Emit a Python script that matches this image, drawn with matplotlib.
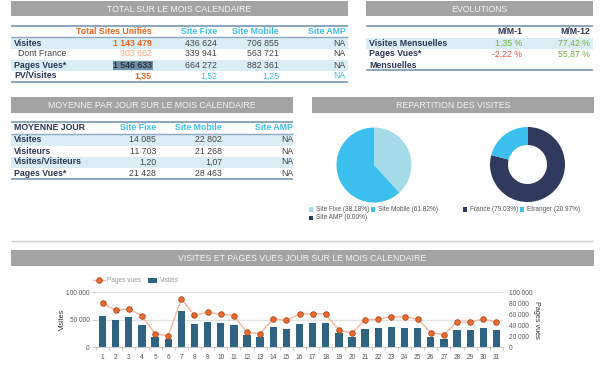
import matplotlib
matplotlib.use('Agg')
import matplotlib.pyplot as plt
from matplotlib.patches import Rectangle
from matplotlib.lines import Line2D

plt.rcParams['font.family'] = ['Liberation Sans', 'DejaVu Sans']

# ---------------- data ----------------
total_cols = ['Total Sites Unifiés', 'Site Fixe', 'Site Mobile', 'Site AMP']
total_rows = ['Visites', 'Dont France', 'Pages Vues*', 'PV/Visites']
total_values = [['1 143 479', '436 624', '706 855', 'NA'],
                ['903 662', '339 941', '563 721', 'NA'],
                ['1 546 633', '664 272', '882 361', 'NA'],
                ['1,35', '1,52', '1,25', 'NA']]

evo_cols = ['M/M-1', 'M/M-12']
evo_rows = ['Visites Mensuelles', 'Pages Vues*\nMensuelles']
evo_values = [[1.35, 77.42], [-2.22, 55.87]]

avg_title = 'MOYENNE JOUR'
avg_cols = ['Site Fixe', 'Site Mobile', 'Site AMP']
avg_rows = ['Visites', 'Visiteurs', 'Visites/Visiteurs', 'Pages Vues*']
avg_values = [['14 085', '22 802', 'NA'],
              ['11 703', '21 268', 'NA'],
              ['1,20', '1,07', 'NA'],
              ['21 428', '28 463', 'NA']]

device_labels = ['Site Fixe', 'Site Mobile', 'Site AMP']
device_share = [38.18, 61.82, 0.00]
geo_labels = ['France', 'Etranger']
geo_share = [79.03, 20.97]

days = list(range(1, 32))
visites = [57600, 50000, 54500, 41000, 18000, 16000, 66700, 43000, 46700, 44000,
           41000, 22400, 19000, 37000, 33000, 42400, 45000, 43600, 25500, 19400,
           34000, 34500, 37600, 36000, 35000, 19000, 16000, 31000, 31000, 35000, 31000]
pages_vues = [80600, 67000, 70000, 57000, 25000, 20600, 88000, 58000, 63600, 60000,
              57600, 27000, 25000, 52000, 49000, 60000, 61000, 60600, 31000, 26000,
              50000, 51000, 56000, 55000, 51500, 26700, 23000, 46000, 46000, 51500, 46000]

# ---------------- style ----------------
W, H = 600, 372
FS = 6.3
SFS = 4.7
ORANGE = '#f26522'
LORANGE = '#f7a27c'
SKY = '#3cbfef'
LSKY = '#a6dce9'
NAVY = '#2b3756'
TXT = '#444444'
ROWBG = '#d8edf4'
LINE = '#8fa8bf'
HEADBG = '#a3a3a3'
GREEN = '#72ad3e'
RED = '#d9534f'
BAR = '#2e6482'

fig = plt.figure(figsize=(6, 3.72), dpi=100)
bg = fig.add_axes([0, 0, 1, 1])
bg.set_xlim(0, W)
bg.set_ylim(H, 0)
bg.axis('off')


def fax(x0, y0, x1, y1):
    return [x0 / W, 1 - y1 / H, (x1 - x0) / W, (y1 - y0) / H]


def header(x0, x1, y0, y1, title):
    bg.add_patch(Rectangle((x0, y0), x1 - x0, y1 - y0, color=HEADBG, lw=0))
    bg.text((x0 + x1) / 2, (y0 + y1) / 2 + 0.5, title, ha='center', va='center',
            fontsize=FS, color='#f4f4f4')


def hline(x0, x1, y, lw=1.2, color=LINE):
    bg.plot([x0, x1], [y, y], color=color, lw=lw, solid_capstyle='butt')


def rowbg(x0, x1, yc, h=11):
    bg.add_patch(Rectangle((x0, yc - h / 2), x1 - x0, h, color=ROWBG, lw=0))


# ---------- Table 1 ----------
header(11, 348, 1, 16, 'TOTAL SUR LE MOIS CALENDAIRE')
hline(11, 348, 26, 1.5)
t1_right = [152, 217, 279, 346]
t1_rows_y = [43, 54, 65, 76]
for i, yc in enumerate(t1_rows_y):
    if i % 2 == 0:
        rowbg(11, 348, yc)
hline(11, 348, 37.3, 1.0)
hline(11, 348, 82, 1.5)
for j, c in enumerate(total_cols):
    bg.text(t1_right[j], 31.7, c, ha='right', va='center', fontsize=FS,
            fontweight='bold', color=ORANGE if j == 0 else SKY)
for i, r in enumerate(total_rows):
    yc = t1_rows_y[i]
    if r == 'Dont France':
        bg.text(18, yc, r, ha='left', va='center', fontsize=FS, color=TXT)
    else:
        bg.text(14, yc, r, ha='left', va='center', fontsize=FS, fontweight='bold', color=NAVY)
    for j, v in enumerate(total_values[i]):
        kw = dict(ha='right', va='center', fontsize=FS, color=TXT)
        if j == 0:
            if i == 0 or i == 3:
                kw.update(color=ORANGE, fontweight='bold')
            elif i == 1:
                kw.update(color=LORANGE)
            else:
                bg.add_patch(Rectangle((113, yc - 4.5), 39.5, 9, color='#7190a8', lw=0))
                kw.update(color='#2a3340', fontweight='bold')
        elif i == 3:
            kw.update(color=SKY)
        bg.text(t1_right[j], yc, v, **kw)

# ---------- Evolutions ----------
header(366, 593, 1, 16, 'EVOLUTIONS')
hline(366, 593, 26, 1.5)
rowbg(366, 593, 43)
hline(366, 593, 70.3, 1.5)
evo_right = [522, 590]
for j, c in enumerate(evo_cols):
    bg.text(evo_right[j], 31.7, c, ha='right', va='center', fontsize=FS,
            fontweight='bold', color=NAVY)
evo_y = [43, 54]
for i, r in enumerate(evo_rows):
    for k, part in enumerate(r.split('\n')):
        bg.text(369, evo_y[i] + 11 * k, part, ha='left', va='center', fontsize=FS,
                fontweight='bold', color=NAVY)
    for j, v in enumerate(evo_values[i]):
        s = f'{v:.2f} %'.replace('.', ',')
        bg.text(evo_right[j], evo_y[i], s, ha='right', va='center', fontsize=FS,
                color=GREEN if v >= 0 else RED)

# ---------- Moyenne ----------
header(11, 293, 97, 113, 'MOYENNE PAR JOUR SUR LE MOIS CALENDAIRE')
hline(11, 293, 122, 1.5)
avg_rows_y = [140, 151, 162, 173]
for i, yc in enumerate(avg_rows_y):
    if i % 2 == 0:
        rowbg(11, 293, yc)
hline(11, 293, 134.3, 1.0)
hline(11, 293, 179, 1.5)
avg_right = [156, 222, 293]
bg.text(14, 128, avg_title, ha='left', va='center', fontsize=FS, fontweight='bold', color=NAVY)
for j, c in enumerate(avg_cols):
    bg.text(avg_right[j], 128, c, ha='right', va='center', fontsize=FS,
            fontweight='bold', color=SKY)
for i, r in enumerate(avg_rows):
    yc = avg_rows_y[i]
    bg.text(14, yc, r, ha='left', va='center', fontsize=FS, fontweight='bold', color=NAVY)
    for j, v in enumerate(avg_values[i]):
        bg.text(avg_right[j], yc, v, ha='right', va='center', fontsize=FS, color=TXT)

# ---------- Repartition ----------
header(312, 594, 97, 113, 'REPARTITION DES VISITES')
ax_p1 = fig.add_axes(fax(336.5, 127.5, 411.5, 202.5))
ax_p1.pie(device_share, colors=[LSKY, SKY, NAVY], startangle=90, counterclock=False,
          radius=1, wedgeprops=dict(linewidth=0))
ax_p1.set_xlim(-1, 1); ax_p1.set_ylim(-1, 1); ax_p1.axis('off')

ax_p2 = fig.add_axes(fax(490, 127, 565, 202))
ax_p2.pie(geo_share, colors=['#303a5e', SKY], startangle=90, counterclock=False,
          radius=1, wedgeprops=dict(width=0.48, linewidth=0))
ax_p2.set_xlim(-1, 1); ax_p2.set_ylim(-1, 1); ax_p2.axis('off')


def legend_item(x, y, color, label):
    bg.add_patch(Rectangle((x, y - 2.2), 4.4, 4.4, color=color, lw=0))
    bg.text(x + 7, y, label, ha='left', va='center', fontsize=SFS, color='#555555')


dev_colors = [LSKY, SKY, NAVY]
dev_pos = [(309, 209.5), (371, 209.5), (309, 217.8)]
for k, lab in enumerate(device_labels):
    legend_item(dev_pos[k][0], dev_pos[k][1], dev_colors[k], f'{lab} ({device_share[k]:.2f}%)')
geo_colors = ['#303a5e', SKY]
geo_pos = [(463, 209.5), (520, 209.5)]
for k, lab in enumerate(geo_labels):
    legend_item(geo_pos[k][0], geo_pos[k][1], geo_colors[k], f'{lab} ({geo_share[k]:.2f}%)')

# separator
hline(11, 593, 241, 1.0, '#cfcfcf')

# ---------- daily chart ----------
header(11, 594, 250, 266, 'VISITES ET PAGES VUES JOUR SUR LE MOIS CALENDAIRE')

ax = fig.add_axes(fax(96, 292.3, 503, 347.3))
ax.bar(days, visites, width=0.56, color=BAR, zorder=2)
ax.set_xlim(0.5, 31.5)
ax.set_ylim(0, 100000)
ax.set_yticks([0, 50000, 100000])
ax.set_yticklabels([f'{v:,}'.replace(',', ' ') for v in [0, 50000, 100000]])
ax.grid(axis='y', color='#e2e2e2', lw=1, zorder=0)
ax.set_xticks(days)
ax.set_xticks([d + 0.5 for d in [0] + days], minor=True)
ax.tick_params(axis='x', which='major', length=0, pad=5, labelsize=SFS, labelcolor='#555555')
ax.tick_params(axis='x', which='minor', length=2, color='#bbbbbb')
ax.tick_params(axis='y', length=3, color='#cccccc', labelsize=SFS, labelcolor='#555555', pad=1.5)
for s in ['top', 'right', 'left']:
    ax.spines[s].set_visible(False)
ax.spines['bottom'].set_color('#cccccc')
ax.set_ylabel('Visites', fontsize=5.2, color='#333333', labelpad=0)

ax2 = ax.twinx()
ax2.plot(days, pages_vues, color='#f9b59a', lw=1, marker='o', ms=4.0,
         mfc='#f06a2c', mec='#a34a22', mew=0.6, zorder=3)
ax2.set_ylim(0, 100000)
ax2.set_yticks(list(range(0, 100001, 20000)))
ax2.set_yticklabels([f'{v:,}'.replace(',', ' ') for v in range(0, 100001, 20000)])
ax2.tick_params(axis='y', length=0, labelsize=SFS, labelcolor='#555555', pad=4)
for s in ['top', 'right', 'left', 'bottom']:
    ax2.spines[s].set_visible(False)
ax2.set_ylabel('Pages vues', fontsize=5.2, color='#333333', rotation=270, labelpad=6)

# chart legend
bg.add_line(Line2D([93, 105], [280.3, 280.3], color='#f9b59a', lw=1))
bg.plot([99], [280.3], marker='o', ms=4.0, mfc='#f06a2c', mec='#a34a22', mew=0.6)
bg.text(107, 280.3, 'Pages vues', ha='left', va='center', fontsize=SFS, color='#999999')
bg.add_patch(Rectangle((148, 277.8), 9, 5, color=BAR, lw=0))
bg.text(160, 280.3, 'Visites', ha='left', va='center', fontsize=SFS, color='#999999')

fig.savefig('out.png', dpi=100, facecolor='white')
